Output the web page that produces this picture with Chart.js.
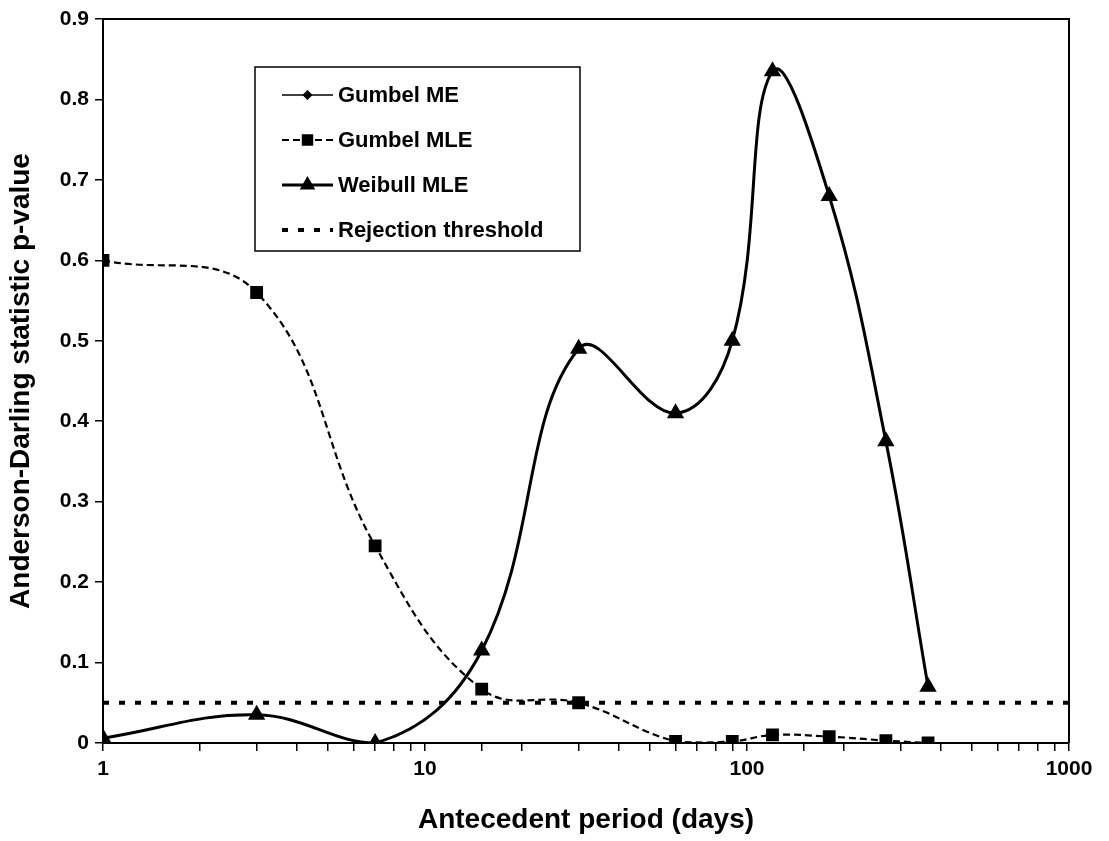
<!DOCTYPE html>
<html>
<head>
<meta charset="utf-8">
<title>Anderson-Darling p-value</title>
<script src="https://cdn.jsdelivr.net/npm/chart.js@4.4.1/dist/chart.umd.min.js"></script>
<style>
  html, body { margin: 0; padding: 0; background: #fff; }
  #wrap { width: 1109px; height: 841px; }
</style>
</head>
<body>
<div id="wrap"><canvas id="adChart" width="1109" height="841"></canvas></div>
<script>
// Antecedent periods (days) and p-values
const periods = [1, 3, 7, 15, 30, 60, 90, 120, 180, 270, 365];
const gumbelME = [0, 0, 0, 0, 0, 0, 0, 0, 0, 0, 0];
const gumbelMLE = [0.60, 0.56, 0.245, 0.067, 0.05, 0.002, 0.002, 0.01, 0.008, 0.003, 0.0];
const weibullMLE = [0.006, 0.035, 0.0, 0.115, 0.49, 0.41, 0.50, 0.835, 0.68, 0.375, 0.07];
const thresholdX = [1, 1000];
const thresholdY = [0.05, 0.05];
const xTickLabels = [1, 10, 100, 1000];
const seriesNames = ['Gumbel ME', 'Gumbel MLE', 'Weibull MLE', 'Rejection threshold'];

function toPoints(xs, ys) {
    return xs.map((x, i) => ({ x: x, y: ys[i] }));
}

const FONT = "'Liberation Sans', Arial, sans-serif";

// frame around the plot area (top + right edges)
const framePlugin = {
    id: 'frame',
    afterDatasetsDraw(chart) {
        const a = chart.chartArea, ctx = chart.ctx;
        ctx.save();
        ctx.strokeStyle = '#000';
        ctx.lineWidth = 2;
        ctx.beginPath();
        ctx.moveTo(a.left, a.top);
        ctx.lineTo(a.right, a.top);
        ctx.lineTo(a.right, a.bottom);
        ctx.stroke();
        ctx.restore();
    }
};

// boxed legend placed inside the plot
const boxLegend = {
    id: 'boxLegend',
    afterDraw(chart) {
        const ctx = chart.ctx;
        const bx = 255, by = 67, bw = 325, bh = 184;
        ctx.save();
        ctx.fillStyle = '#fff';
        ctx.fillRect(bx, by, bw, bh);
        ctx.strokeStyle = '#000';
        ctx.lineWidth = 1.5;
        ctx.strokeRect(bx, by, bw, bh);
        ctx.font = 'bold 22px ' + FONT;
        ctx.textBaseline = 'middle';
        chart.data.datasets.forEach((ds, i) => {
            const y = 95 + i * 45;
            const x0 = 282, x1 = 333;
            ctx.strokeStyle = '#000';
            ctx.lineWidth = ds.borderWidth;
            ctx.setLineDash(ds.borderDash || []);
            ctx.beginPath();
            ctx.moveTo(x0, y);
            ctx.lineTo(x1, y);
            ctx.stroke();
            ctx.setLineDash([]);
            ctx.fillStyle = '#000';
            if (ds.legendRadius > 0) {
                Chart.helpers.drawPoint(ctx, {
                    pointStyle: ds.pointStyle,
                    radius: ds.legendRadius,
                    borderWidth: 1
                }, (x0 + x1) / 2, y);
            }
            ctx.fillStyle = '#000';
            ctx.fillText(ds.label, 338, y + 1);
        });
        ctx.restore();
    }
};

const ctx = document.getElementById('adChart').getContext('2d');
new Chart(ctx, {
    type: 'line',
    data: {
        datasets: [
            {
                label: seriesNames[0],
                data: toPoints(periods, gumbelME),
                borderColor: '#000',
                backgroundColor: '#000',
                borderWidth: 1.5,
                pointStyle: 'rectRot',
                pointRadius: 0,
                legendRadius: 4,
                tension: 0.4
            },
            {
                label: seriesNames[1],
                data: toPoints(periods, gumbelMLE),
                borderColor: '#000',
                backgroundColor: '#000',
                borderWidth: 2.2,
                borderDash: [7, 4],
                pointStyle: 'rect',
                pointRadius: 7.5,
                legendRadius: 6.5,
                tension: 0.4
            },
            {
                label: seriesNames[2],
                data: toPoints(periods, weibullMLE),
                borderColor: '#000',
                backgroundColor: '#000',
                borderWidth: 3,
                pointStyle: 'triangle',
                pointRadius: 7,
                legendRadius: 6,
                tension: 0.4
            },
            {
                label: seriesNames[3],
                data: toPoints(thresholdX, thresholdY),
                borderColor: '#000',
                backgroundColor: '#000',
                borderWidth: 4,
                borderDash: [6, 10],
                pointRadius: 0,
                legendRadius: 0,
                tension: 0
            }
        ]
    },
    options: {
        responsive: false,
        animation: false,
        events: [],
        layout: { padding: { top: 19, right: 40, left: 0, bottom: 0 } },
        plugins: {
            legend: { display: false },
            tooltip: { enabled: false }
        },
        scales: {
            x: {
                type: 'logarithmic',
                min: 1,
                max: 1000,
                border: { color: '#000', width: 2 },
                grid: { drawOnChartArea: false, drawTicks: true, tickLength: 8, color: '#000', lineWidth: 1.5 },
                ticks: {
                    color: '#000',
                    font: { family: FONT, size: 21, weight: 'bold' },
                    padding: 6,
                    maxRotation: 0,
                    autoSkip: false,
                    callback: function(value) {
                        return xTickLabels.includes(value) ? String(value) : '';
                    }
                },
                title: {
                    display: true,
                    text: 'Antecedent period (days)',
                    color: '#000',
                    font: { family: FONT, size: 28, weight: 'bold' },
                    padding: { top: 4 }
                },
                afterFit: function(scale) { scale.height = 98; }
            },
            y: {
                min: 0,
                max: 0.9,
                border: { color: '#000', width: 2 },
                grid: { drawOnChartArea: false, drawTicks: true, tickLength: 8, color: '#000', lineWidth: 1.5 },
                ticks: {
                    stepSize: 0.1,
                    color: '#000',
                    font: { family: FONT, size: 21, weight: 'bold' },
                    padding: 6,
                    callback: function(value) {
                        return value === 0 ? '0' : value.toFixed(1);
                    }
                },
                title: {
                    display: true,
                    text: 'Anderson-Darling statistic p-value',
                    color: '#000',
                    font: { family: FONT, size: 28, weight: 'bold' },
                    padding: { top: 4, bottom: 0 }
                },
                afterFit: function(scale) { scale.width = 103; }
            }
        }
    },
    plugins: [framePlugin, boxLegend]
});
</script>
</body>
</html>
